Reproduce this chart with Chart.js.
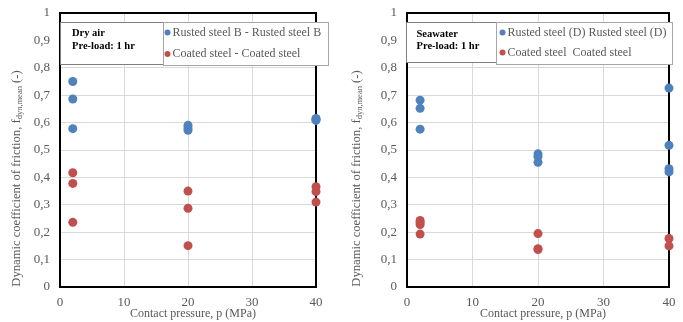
<!DOCTYPE html>
<html>
<head>
<meta charset="utf-8">
<script src="https://cdn.jsdelivr.net/npm/chart.js@4.4.0/dist/chart.umd.min.js"></script>
<style>
  body { margin: 0; background: #fff; }
  #wrap { position: relative; width: 683px; height: 322px; }
  canvas { position: absolute; top: 0; }
</style>
</head>
<body>
<div id="wrap">
  <canvas id="dryChart" width="341" height="322" style="left:0"></canvas>
  <canvas id="seaChart" width="342" height="322" style="left:341px"></canvas>
</div>
<script>
// x ticks / y ticks
const pressureTicks = [0, 10, 20, 30, 40];
const frictionTicks = [0, 0.1, 0.2, 0.3, 0.4, 0.5, 0.6, 0.7, 0.8, 0.9, 1];

// Dry air
const dryRustedP = [2, 2, 2, 20, 20, 20, 40, 40, 40];
const dryRustedF = [0.750, 0.686, 0.578, 0.590, 0.580, 0.572, 0.615, 0.612, 0.608];
const dryCoatedP = [2, 2, 2, 20, 20, 20, 40, 40, 40];
const dryCoatedF = [0.417, 0.378, 0.236, 0.350, 0.287, 0.151, 0.366, 0.348, 0.310];

// Seawater
const seaRustedP = [2, 2, 2, 20, 20, 20, 40, 40, 40, 40];
const seaRustedF = [0.682, 0.652, 0.576, 0.486, 0.476, 0.455, 0.726, 0.517, 0.432, 0.420];
const seaCoatedP = [2, 2, 2, 2, 20, 20, 20, 40, 40];
const seaCoatedF = [0.243, 0.235, 0.228, 0.193, 0.195, 0.140, 0.137, 0.177, 0.150];

const BLUE = '#4f81bd';
const RED = '#c0504d';
const GREY = '#595959';
const SERIF = '"Liberation Serif", "Times New Roman", serif';

function pts(xs, ys) {
    return xs.map((x, i) => ({ x: x, y: ys[i] }));
}

function fmtComma(v) {
    return String(Number(v.toFixed(1))).replace('.', ',');
}

// frame, note box, legend box and axis titles
const decorations = {
    id: 'decorations',
    beforeDatasetsDraw(chart) {
        const a = chart.chartArea, ctx = chart.ctx;
        ctx.save();
        ctx.strokeStyle = '#000';
        ctx.lineWidth = 2;
        ctx.strokeRect(a.left, a.top, a.right - a.left, a.bottom - a.top);
        ctx.restore();
    },
    afterDatasetsDraw(chart, args, opts) {
        const ctx = chart.ctx;
        ctx.save();
        // note box
        const n = opts.note;
        ctx.fillStyle = '#fff';
        ctx.fillRect(n.x1, n.y1, n.x2 - n.x1, n.y2 - n.y1);
        ctx.strokeStyle = '#7f7f7f';
        ctx.lineWidth = 1;
        ctx.strokeRect(n.x1 + 0.5, n.y1 + 0.5, n.x2 - n.x1, n.y2 - n.y1);
        ctx.fillStyle = '#000';
        ctx.font = 'bold 10.5px ' + SERIF;
        ctx.textBaseline = 'middle';
        ctx.textAlign = 'left';
        n.lines.forEach((t, i) => ctx.fillText(t, n.tx, n.ty + i * 12.5));

        // legend box
        const l = opts.legend;
        ctx.fillStyle = '#fff';
        ctx.fillRect(l.x1, l.y1, l.x2 - l.x1, l.y2 - l.y1);
        ctx.strokeStyle = '#a6a6a6';
        ctx.strokeRect(l.x1 + 0.5, l.y1 + 0.5, l.x2 - l.x1, l.y2 - l.y1);
        ctx.font = '12px ' + SERIF;
        chart.data.datasets.forEach((ds, i) => {
            const y = l.ty + i * l.dy;
            ctx.fillStyle = ds.backgroundColor;
            ctx.beginPath();
            ctx.arc(l.mx, y, 3, 0, Math.PI * 2);
            ctx.fill();
            ctx.fillStyle = GREY;
            ctx.fillText(ds.label, l.mx + 5, y);
        });
        ctx.restore();
    },
    afterDraw(chart, args, opts) {
        const a = chart.chartArea, ctx = chart.ctx;
        ctx.save();
        ctx.fillStyle = GREY;
        ctx.textBaseline = 'middle';
        ctx.textAlign = 'center';
        ctx.font = '12px ' + SERIF;
        ctx.fillText('Contact pressure, p (MPa)', (a.left + a.right) / 2 + 5, 314);

        // y title with subscript
        const main = 'Dynamic coefficient of friction, f';
        const sub = 'dyn,mean';
        const tail = ' (-)';
        ctx.textAlign = 'left';
        ctx.font = '12.6px ' + SERIF;
        const w1 = ctx.measureText(main).width;
        const w3 = ctx.measureText(tail).width;
        ctx.font = '8.5px ' + SERIF;
        const w2 = ctx.measureText(sub).width;
        const total = w1 + w2 + w3;
        ctx.translate(opts.yTitleX, 178.5);
        ctx.rotate(-Math.PI / 2);
        let x = -total / 2;
        ctx.font = '12.6px ' + SERIF;
        ctx.fillText(main, x, 0);
        x += w1;
        ctx.font = '8.5px ' + SERIF;
        ctx.fillText(sub, x, 3);
        x += w2;
        ctx.font = '12.6px ' + SERIF;
        ctx.fillText(tail, x, 0);
        ctx.restore();
    }
};

function makeChart(id, rustedLabel, coatedLabel, rusted, coated, padRight, yWidth, deco) {
    return new Chart(document.getElementById(id), {
        type: 'scatter',
        data: {
            datasets: [
                { label: rustedLabel, data: rusted, backgroundColor: BLUE, borderWidth: 0, pointRadius: 4.5, clip: false },
                { label: coatedLabel, data: coated, backgroundColor: RED, borderWidth: 0, pointRadius: 4.5, clip: false }
            ]
        },
        options: {
            responsive: false,
            animation: false,
            layout: { padding: { left: 0, right: padRight, top: 13, bottom: 0 } },
            scales: {
                x: {
                    type: 'linear', min: 0, max: 40,
                    afterFit: s => { s.height = 35; },
                    afterBuildTicks: s => { s.ticks = pressureTicks.map(v => ({ value: v })); },
                    grid: { color: '#d9d9d9', drawTicks: true, tickLength: 8, tickColor: 'rgba(0,0,0,0)' },
                    border: { display: false },
                    ticks: { color: GREY, font: { family: SERIF, size: 13 }, padding: 0 }
                },
                y: {
                    type: 'linear', min: 0, max: 1,
                    afterFit: s => { s.width = yWidth; },
                    afterBuildTicks: s => { s.ticks = frictionTicks.map(v => ({ value: v })); },
                    grid: { color: '#d9d9d9', drawTicks: true, tickLength: 10, tickColor: 'rgba(0,0,0,0)' },
                    border: { display: false },
                    ticks: { color: GREY, font: { family: SERIF, size: 13 }, padding: 0, callback: v => fmtComma(v) }
                }
            },
            plugins: {
                legend: { display: false },
                tooltip: { enabled: false },
                decorations: deco
            }
        },
        plugins: [decorations]
    });
}

makeChart('dryChart', 'Rusted steel B - Rusted steel B', 'Coated steel - Coated steel',
    pts(dryRustedP, dryRustedF), pts(dryCoatedP, dryCoatedF), 25, 60, {
        yTitleX: 17,
        note: { x1: 60, y1: 22, x2: 163, y2: 64, tx: 72, ty: 33.5, lines: ['Dry air', 'Pre-load: 1 hr'] },
        legend: { x1: 163, y1: 22, x2: 328, y2: 65, mx: 167.5, ty: 32.5, dy: 21.5 }
    });

makeChart('seaChart', 'Rusted steel (D) Rusted steel (D)', 'Coated steel  Coated steel',
    pts(seaRustedP, seaRustedF), pts(seaCoatedP, seaCoatedF), 14, 66, {
        yTitleX: 16,
        note: { x1: 65, y1: 22, x2: 155, y2: 62, tx: 75.5, ty: 34, lines: ['Seawater', 'Pre-load: 1 hr'] },
        legend: { x1: 155, y1: 22, x2: 331, y2: 64, mx: 161.5, ty: 32.5, dy: 20 }
    });
</script>
</body>
</html>
